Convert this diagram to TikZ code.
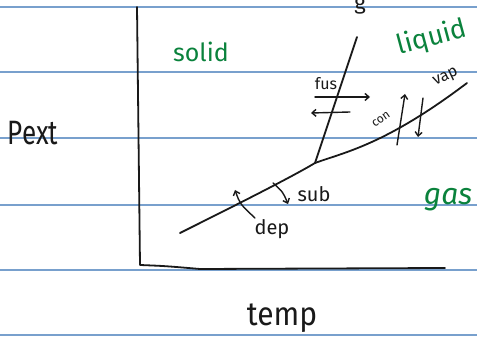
\documentclass[tikz,border=0pt]{standalone}
\usepackage{fontspec}
\setmainfont{Fira Sans}
\usetikzlibrary{arrows.meta}
\definecolor{rulecol}{RGB}{120,160,205}
\definecolor{ink}{RGB}{25,25,25}
\definecolor{pen}{RGB}{10,130,60}
\begin{document}
\begin{tikzpicture}[x=1pt,y=-1pt,line cap=round,line join=round,
  rulestyle/.style={draw=rulecol,line width=1.3pt},
  inkline/.style={draw=ink,line width=1.8pt},
  arr/.style={draw=ink,line width=1.4pt,-{Straight Barb[length=4pt,width=7pt]}},
  blabel/.style={text=ink,inner sep=0pt},
  glabel/.style={text=pen,inner sep=0pt}]
\useasboundingbox (0,0) rectangle (477,347);
\fill[white] (0,0) rectangle (477,347);
\foreach \y in {7,72,138,205,270,335} \draw[rulestyle] (0,\y) -- (477,\y);
% axes
\coordinate (ytop) at (137,7);
\coordinate (origin) at (140,265);
\coordinate (xmid) at (200,269);
\coordinate (xend) at (445,268);
\draw[inkline] (ytop) -- (origin) .. controls (165,266) .. (xmid) -- (xend);
% phase curves
\coordinate (tp) at (315,163);
\coordinate (ftop) at (357,37);
\coordinate (vend) at (467,83);
\coordinate (send) at (180,233);
\draw[inkline] (tp) -- (ftop);
\draw[inkline] (tp) .. controls (345,152) and (385,145) .. (vend);
\draw[inkline] (tp) .. controls (290,178) and (230,208) .. (send);
% fusion arrows
\coordinate (fa1) at (315,97); \coordinate (fa2) at (370,97);
\coordinate (fb1) at (350,112); \coordinate (fb2) at (311,113);
\draw[arr] (fa1) -- (fa2);
\draw[arr] (fb1) -- (fb2);
% vap / con arrows
\coordinate (ca1) at (397,145); \coordinate (ca2) at (405,94);
\coordinate (va1) at (423,98); \coordinate (va2) at (418,137);
\draw[arr] (ca1) -- (ca2);
\draw[arr] (va1) -- (va2);
% dep / sub arrows
\coordinate (da1) at (255,218); \coordinate (da2) at (235,190);
\coordinate (sa1) at (273,183); \coordinate (sa2) at (288,204);
\draw[arr] (da1) .. controls (240,204) .. (da2);
\draw[arr] (sa1) .. controls (283,192) .. (sa2);
% labels
\node[blabel,font=\fontsize{16}{16}\selectfont] (fus) at (326,84) {fus};
\node[blabel,font=\fontsize{12}{12}\selectfont,rotate=35] (con) at (381,119) {con};
\node[blabel,font=\fontsize{16}{16}\selectfont,rotate=25] (vap) at (446,78) {vap};
\node[blabel,font=\fontsize{20}{20}\selectfont] (sub) at (314,194) {sub};
\node[blabel,font=\fontsize{20}{20}\selectfont] (dep) at (272,229) {dep};
\node[blabel,font=\fontsize{26}{26}\selectfont,yscale=1.3] (pext) at (33,133) {Pext};
\node[blabel,font=\fontsize{30}{30}\selectfont,yscale=1.1] (temp) at (282,318) {temp};
\node[glabel,font=\fontsize{25}{25}\selectfont] (solid) at (201,52) {solid};
\node[glabel,font=\fontsize{27}{27}\selectfont,rotate=15] (liquid) at (432,38) {liquid};
\node[glabel,font=\itshape\fontsize{30}{30}\selectfont] (gas) at (448,200) {gas};
\node[blabel,font=\fontsize{22}{22}\selectfont] (gtop) at (360,5) {g};
\end{tikzpicture}
\end{document}
